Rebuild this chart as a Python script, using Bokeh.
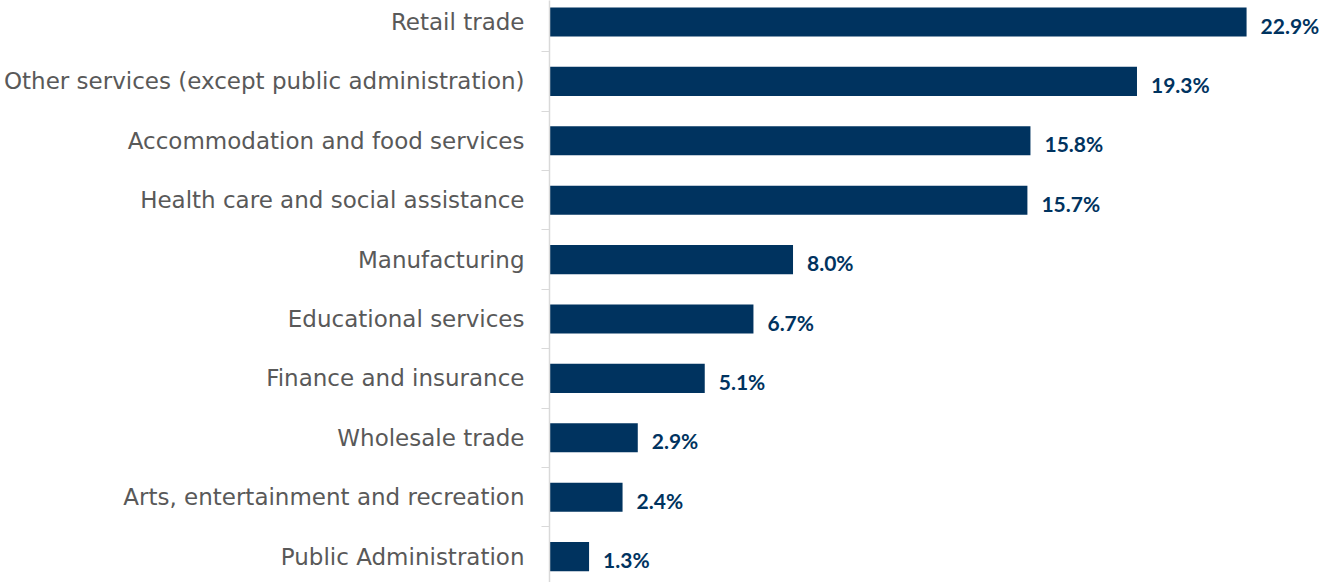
from bokeh.plotting import figure
from bokeh.models import Range1d, FixedTicker, ColumnDataSource
from bokeh.embed import file_html
from bokeh.resources import INLINE
from bokeh.core.properties import value

categories = ["Retail trade", "Other services (except public administration)",
              "Accommodation and food services", "Health care and social assistance",
              "Manufacturing", "Educational services", "Finance and insurance",
              "Wholesale trade", "Arts, entertainment and recreation", "Public Administration"]
values = [22.9, 19.3, 15.8, 15.7, 8.0, 6.7, 5.1, 2.9, 2.4, 1.3]
labels = [f"{v:.1f}%" for v in values]

pos = list(range(len(categories)))
src = ColumnDataSource(dict(y=pos, v=values, lab=labels))

NAVY = "#00335F"

p = figure(width=1323, height=582, output_backend="svg", toolbar_location=None,
           x_range=Range1d(0, (1323 - 549) / 30.44),
           y_range=Range1d(9.436, -0.362),
           min_border_left=549, min_border_right=0, min_border_top=0, min_border_bottom=0,
           outline_line_color=None)

p.hbar(y="y", left=0, right="v", height=0.49, source=src, color=NAVY, line_color=None)
p.text(x="v", y="y", text="lab", source=src, x_offset=14, y_offset=3,
       text_font=value("Lato"), text_font_style="bold", text_font_size="21px",
       text_color=NAVY, text_align="left", text_baseline="middle")

p.xaxis.visible = False
p.xgrid.visible = False
p.ygrid.visible = False

ax = p.yaxis[0]
ax.ticker = FixedTicker(ticks=pos, minor_ticks=[i + 0.5 for i in range(-1, 10)])
ax.major_label_overrides = {i: c for i, c in enumerate(categories)}
ax.major_tick_line_color = None
ax.major_tick_out = 0
ax.major_tick_in = 0
ax.minor_tick_line_color = "#d9d9d9"
ax.minor_tick_out = 8
ax.minor_tick_in = 0
ax.axis_line_color = "#d9d9d9"
ax.axis_line_width = 1.5
ax.major_label_standoff = 17
ax.major_label_text_font = "DejaVu Sans"
ax.major_label_text_font_size = "23px"
ax.major_label_text_color = "#595959"

open("out.html", "w").write(file_html(p, INLINE))
